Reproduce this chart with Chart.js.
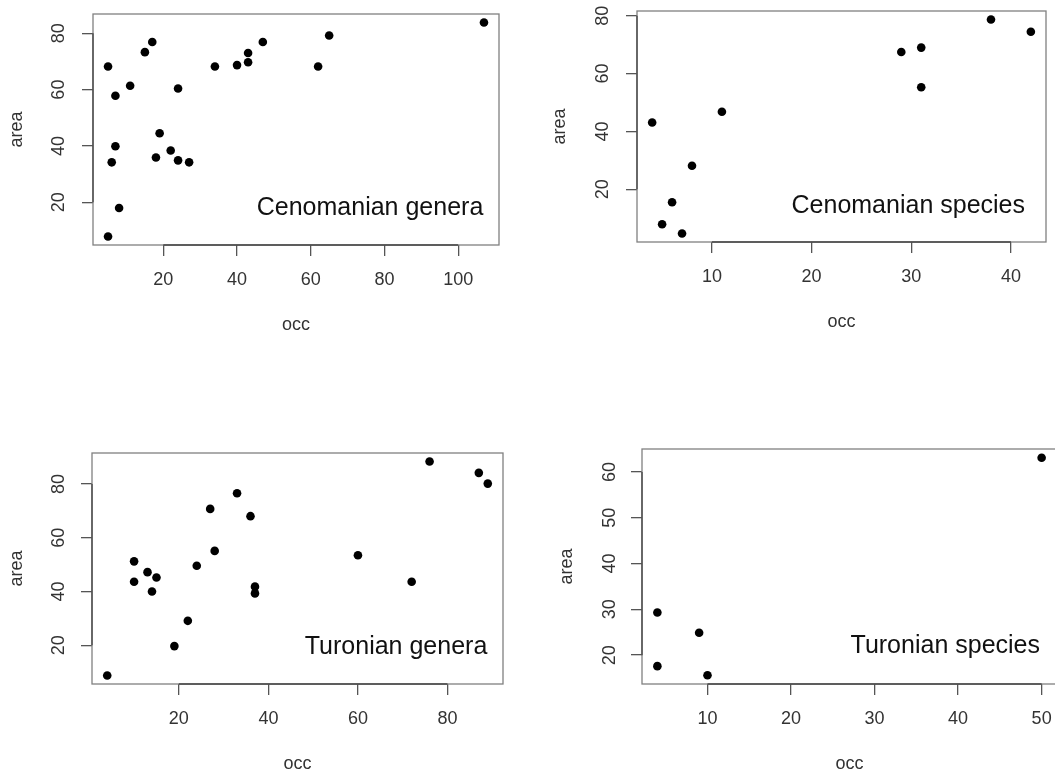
<!DOCTYPE html>
<html>
<head>
<meta charset="utf-8">
<script src="https://cdn.jsdelivr.net/npm/chart.js@4.4.1/dist/chart.umd.min.js"></script>
<style>
  html, body { margin: 0; padding: 0; background: #fff; width: 1055px; height: 773px; overflow: hidden; }
  canvas { position: absolute; }
</style>
</head>
<body>
<canvas id="cenGenera"></canvas>
<canvas id="cenSpecies"></canvas>
<canvas id="turGenera"></canvas>
<canvas id="turSpecies"></canvas>
<script>
// --- data ---
const cenGeneraOcc  = [5, 5, 7, 7, 6, 8, 11, 15, 17, 24, 19, 18, 22, 24, 27, 34, 40, 43, 43, 47, 62, 65, 107];
const cenGeneraArea = [68.2, 7.9, 57.8, 39.9, 34.2, 18.0, 61.4, 73.3, 76.9, 60.4, 44.5, 35.9, 38.4, 34.9, 34.2, 68.2, 68.7, 69.7, 73.0, 76.9, 68.2, 79.2, 83.8];

const cenSpeciesOcc  = [4, 5, 6, 7, 8, 11, 29, 31, 31, 38, 42];
const cenSpeciesArea = [43.1, 7.9, 15.5, 4.7, 28.1, 46.8, 67.5, 69.0, 55.3, 78.7, 74.5];

const turGeneraOcc  = [4, 10, 10, 13, 15, 14, 19, 22, 24, 27, 28, 33, 36, 37, 37, 60, 72, 76, 87, 89];
const turGeneraArea = [8.8, 51.2, 43.6, 47.2, 45.2, 40.0, 19.7, 29.1, 49.6, 70.7, 55.1, 76.5, 68.0, 41.8, 39.3, 53.5, 43.6, 88.3, 84.1, 80.1];

const turSpeciesOcc  = [4, 4, 9, 10, 50];
const turSpeciesArea = [29.3, 17.6, 24.9, 15.6, 63.1];

// tick labels
const cenGeneraXTicks  = [20, 40, 60, 80, 100];
const cenGeneraYTicks  = [20, 40, 60, 80];
const cenSpeciesXTicks = [10, 20, 30, 40];
const cenSpeciesYTicks = [20, 40, 60, 80];
const turGeneraXTicks  = [20, 40, 60, 80];
const turGeneraYTicks  = [20, 40, 60, 80];
const turSpeciesXTicks = [10, 20, 30, 40, 50];
const turSpeciesYTicks = [20, 30, 40, 50, 60];

const FONT = '"Liberation Sans", Arial, Helvetica, sans-serif';

// R-like range: data range stretched by 4% on each side
function rRange(vals) {
    const lo = Math.min(...vals), hi = Math.max(...vals);
    const pad = (hi - lo) * 0.04;
    return [lo - pad, hi + pad];
}

// box round the plot, axis line between outer ticks, and the legend text
const rStyle = {
    id: 'rStyle',
    afterDraw(chart, args, opts) {
        const { ctx, chartArea: a, scales } = chart;
        ctx.save();
        ctx.strokeStyle = '#808080';
        ctx.lineWidth = 1.3;
        ctx.strokeRect(a.left, a.top, a.right - a.left, a.bottom - a.top);

        const xt = scales.x.ticks, yt = scales.y.ticks;
        ctx.strokeStyle = '#444';
        ctx.lineWidth = 1.3;
        ctx.beginPath();
        ctx.moveTo(scales.x.getPixelForValue(xt[0].value), a.bottom);
        ctx.lineTo(scales.x.getPixelForValue(xt[xt.length - 1].value), a.bottom);
        ctx.moveTo(a.left, scales.y.getPixelForValue(yt[0].value));
        ctx.lineTo(a.left, scales.y.getPixelForValue(yt[yt.length - 1].value));
        ctx.stroke();

        ctx.fillStyle = '#111';
        ctx.font = '25px ' + FONT;
        ctx.textAlign = 'right';
        ctx.textBaseline = 'alphabetic';
        ctx.fillText(opts.text, a.right - opts.inset, a.bottom - opts.raise);
        ctx.restore();
    }
};

function makePanel(id, pos, occ, area, xTicks, yTicks, label) {
    const canvas = document.getElementById(id);
    canvas.width = pos.w;
    canvas.height = pos.h;
    canvas.style.left = pos.left + 'px';
    canvas.style.top = pos.top + 'px';

    const [xmin, xmax] = rRange(occ);
    const [ymin, ymax] = rRange(area);
    const points = occ.map((x, i) => ({ x: x, y: area[i] }));

    new Chart(canvas.getContext('2d'), {
        type: 'scatter',
        data: {
            datasets: [{
                data: points,
                backgroundColor: '#000',
                borderWidth: 0,
                pointRadius: 4.3,
                pointHoverRadius: 4.3
            }]
        },
        options: {
            responsive: false,
            animation: false,
            events: [],
            layout: { autoPadding: false, padding: { top: pos.padTop, right: pos.padRight, left: 0, bottom: 0 } },
            plugins: {
                legend: { display: false },
                tooltip: { enabled: false },
                rStyle: label
            },
            scales: {
                x: {
                    type: 'linear', bounds: 'data', min: xmin, max: xmax,
                    afterBuildTicks: s => { s.ticks = xTicks.map(v => ({ value: v })); },
                    afterFit: s => { s.height = 96; s.paddingLeft = 0; s.paddingRight = 0; },
                    border: { display: false },
                    grid: { drawOnChartArea: false, drawTicks: true, tickLength: 11, color: '#555', lineWidth: 1.3 },
                    ticks: { padding: 13, color: '#333', autoSkip: false, maxRotation: 0, font: { size: 18, family: FONT } },
                    title: { display: true, text: 'occ', color: '#333', padding: { top: 0, bottom: 5 }, font: { size: 18, family: FONT } }
                },
                y: {
                    type: 'linear', bounds: 'data', min: ymin, max: ymax,
                    afterBuildTicks: s => { s.ticks = yTicks.map(v => ({ value: v })); },
                    afterFit: s => { s.width = pos.yAxisW; s.paddingTop = 0; s.paddingBottom = 0; },
                    border: { display: false },
                    grid: { drawOnChartArea: false, drawTicks: true, tickLength: 11, color: '#555', lineWidth: 1.3 },
                    ticks: { padding: pos.yTickPad, color: '#333', autoSkip: false, minRotation: 90, maxRotation: 90,
                             crossAlign: 'center', font: { size: 18, family: FONT } },
                    title: { display: true, text: 'area', color: '#333', padding: { top: pos.yTitlePad, bottom: 0 }, font: { size: 18, family: FONT } }
                }
            }
        },
        plugins: [rStyle]
    });
}

makePanel('cenGenera',
    { left: 0, top: 4, w: 519, h: 337, yAxisW: 93, padTop: 10, padRight: 20, yTickPad: 12.7, yTitlePad: 5.9 },
    cenGeneraOcc, cenGeneraArea, cenGeneraXTicks, cenGeneraYTicks,
    { text: 'Cenomanian genera', inset: 15.7, raise: 30 });

makePanel('cenSpecies',
    { left: 540, top: 1, w: 515, h: 337, yAxisW: 97, padTop: 10, padRight: 9, yTickPad: 12.7, yTitlePad: 9.2 },
    cenSpeciesOcc, cenSpeciesArea, cenSpeciesXTicks, cenSpeciesYTicks,
    { text: 'Cenomanian species', inset: 21, raise: 29 });

makePanel('turGenera',
    { left: 0, top: 443, w: 523, h: 337, yAxisW: 92, padTop: 10, padRight: 20, yTickPad: 11.7, yTitlePad: 5.9 },
    turGeneraOcc, turGeneraArea, turGeneraXTicks, turGeneraYTicks,
    { text: 'Turonian genera', inset: 15.7, raise: 30 });

makePanel('turSpecies',
    { left: 540, top: 439, w: 522, h: 341, yAxisW: 102, padTop: 10, padRight: 5, yTickPad: 11, yTitlePad: 15.9 },
    turSpeciesOcc, turSpeciesArea, turSpeciesXTicks, turSpeciesYTicks,
    { text: 'Turonian species', inset: 17, raise: 31 });
</script>
</body>
</html>
